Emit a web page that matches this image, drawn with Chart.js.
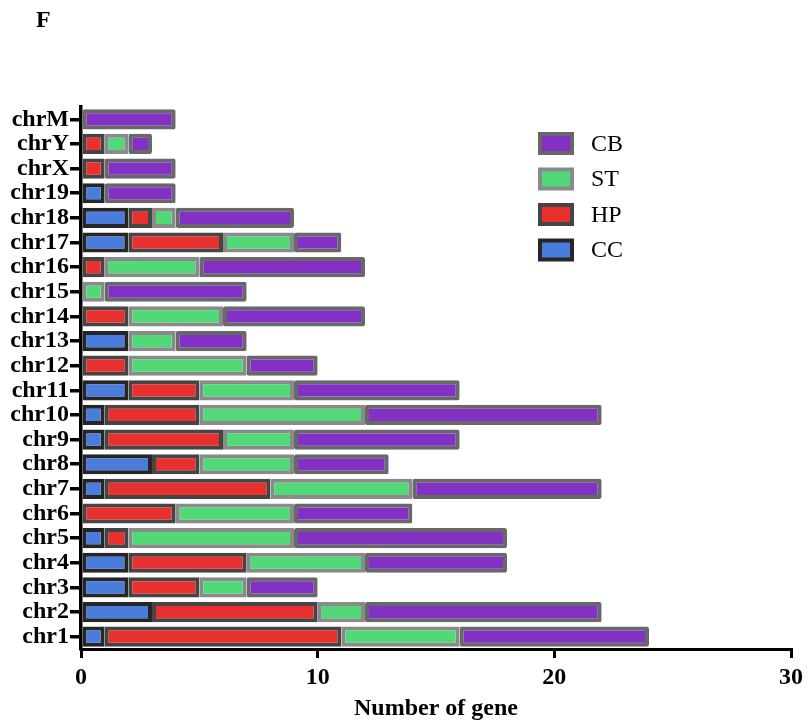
<!DOCTYPE html>
<html>
<head>
<meta charset="utf-8">
<script src="https://cdn.jsdelivr.net/npm/chart.js"></script>
<style>
  html, body { margin:0; padding:0; background:#fff; }
  #wrap { position:relative; width:808px; height:727px; }
  #panel { position:absolute; left:36px; top:6px; font:bold 24px "Liberation Serif", serif; color:#000; }
</style>
</head>
<body>
<div id="wrap">
  <canvas id="chart" width="808" height="727"></canvas>
  <div id="panel">F</div>
</div>
<script>
// chromosomes, bottom to top
const chroms = ['chr1','chr2','chr3','chr4','chr5','chr6','chr7','chr8','chr9','chr10','chr11',
                'chr12','chr13','chr14','chr15','chr16','chr17','chr18','chr19','chrX','chrY','chrM'];
const ccVals = [1,3,2,2,1,0,1,3,1,1,2,0,2,0,0,0,2,2,1,0,0,0];
const hpVals = [10,7,3,5,1,4,7,2,5,4,3,2,0,2,0,1,4,1,0,1,1,0];
const stVals = [5,2,2,5,7,5,6,4,3,7,4,5,2,4,1,4,3,1,0,0,1,0];
const cbVals = [8,10,3,6,9,5,8,4,7,10,7,3,3,6,6,7,2,5,3,3,1,4];
const xTicks = [0,10,20,30];

const serif = '"Liberation Serif", "Times New Roman", serif';

function ds(label, data, fill, edge) {
  return { label, data, backgroundColor: fill, borderColor: edge, borderWidth: 4,
           borderSkipped: false, borderRadius: 2, barPercentage: 0.82, categoryPercentage: 1.0 };
}

// legend drawn inside the plot, top to bottom CB, ST, HP, CC
const boxLegend = {
  id: 'boxLegend',
  afterDraw(chart) {
    const ctx = chart.ctx;
    const sets = chart.data.datasets.slice().reverse();
    ctx.save();
    sets.forEach((d, i) => {
      const x = 538, y = 132 + i * 35.5, w = 36, h = 23, b = 4;
      ctx.fillStyle = d.borderColor;
      ctx.fillRect(x, y, w, h);
      ctx.fillStyle = d.backgroundColor;
      ctx.fillRect(x + b, y + b, w - 2 * b, h - 2 * b);
      ctx.fillStyle = '#000';
      ctx.font = '24px ' + serif;
      ctx.textBaseline = 'middle';
      ctx.fillText(d.label, 591, y + h / 2 + 1);
    });
    ctx.restore();
  }
};

new Chart(document.getElementById('chart'), {
  type: 'bar',
  data: {
    labels: chroms,
    datasets: [
      ds('CC', ccVals, '#4a7ddb', '#262626'),
      ds('HP', hpVals, '#e8302e', '#454545'),
      ds('ST', stVals, '#52d977', '#8a8a8a'),
      ds('CB', cbVals, '#8331c4', '#686868')
    ]
  },
  options: {
    indexAxis: 'y',
    responsive: false,
    animation: false,
    layout: { padding: { top: 107, right: 17, left: 0, bottom: 0 } },
    plugins: { legend: { display: false }, tooltip: { enabled: false } },
    scales: {
      x: {
        stacked: true, min: 0, max: 30,
        afterBuildTicks: s => { s.ticks = xTicks.map(v => ({ value: v })); },
        afterFit: s => { s.height = 78; },
        border: { display: true, color: '#000', width: 3 },
        grid: { drawOnChartArea: false, color: '#000', lineWidth: 3, tickLength: 9 },
        ticks: { color: '#000', padding: 5, font: { family: serif, size: 24, weight: 'bold' } },
        title: { display: true, text: 'Number of gene', color: '#000', padding: { top: 0, bottom: 4 },
                 font: { family: serif, size: 24, weight: 'bold' } }
      },
      y: {
        stacked: true, reverse: true,
        afterFit: s => { s.width = 81; },
        border: { display: true, color: '#000', width: 3.5 },
        grid: { offset: false, drawOnChartArea: false, color: '#000', lineWidth: 3.5, tickLength: 11 },
        ticks: { color: '#000', padding: 1, autoSkip: false, font: { family: serif, size: 24, weight: 'bold' } }
      }
    }
  },
  plugins: [boxLegend]
});
</script>
</body>
</html>
